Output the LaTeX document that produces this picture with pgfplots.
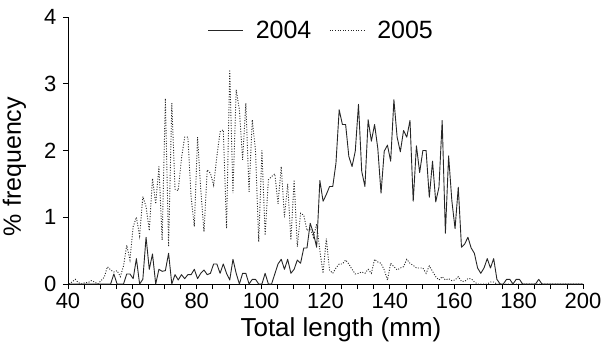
\documentclass[border=0pt]{standalone}
\usepackage{fontspec}
\setmainfont{Liberation Sans}
\usepackage{pgfplots}
\usepackage{pgfplotstable}
\pgfplotsset{compat=1.18}
\pgfplotstableread{
x a b
40 0 0
41 0 0.03
42 0 0.07
43 0 0.02
44 0 0
45 0 0.02
46 0 0.02
47 0 0.05
48 0 0.03
49 0 0
50 0 0.05
51 0 0.1
52 0 0.26
53 0 0.21
54 0.15 0.18
55 0 0.2
56 0 0.11
57 0 0.27
58 0.15 0.58
59 0.15 0.36
60 0.08 0.86
61 0.38 1.0
62 0 0.72
63 0.07 1.31
64 0.7 1.16
65 0.22 0.8
66 0.45 1.58
67 0 1.2
68 0.22 1.76
69 0.19 0.66
70 0.2 2.78
71 0.46 0.56
72 0 2.71
73 0.14 1.42
74 0.06 1.4
75 0.14 1.88
76 0.08 2.2
77 0.14 2.2
78 0.14 1.3
79 0.22 0.86
80 0.08 2.2
81 0.16 1.41
82 0.21 0.78
83 0.14 1.71
84 0.16 1.66
85 0.3 1.48
86 0.3 1.91
87 0.16 2.28
88 0.3 2.31
89 0.16 0.83
90 0.06 3.21
91 0.37 1.36
92 0.16 2.91
93 0 2.61
94 0.16 1.86
95 0.16 2.71
96 0 1.38
97 0.07 2.46
98 0.07 2.0
99 0 0.63
100 0 2.0
101 0.16 0.73
102 0 1.56
103 0 1.61
104 0.15 1.65
105 0.3 1.2
106 0.37 1.76
107 0.22 1.0
108 0.37 1.5
109 0.16 0.66
110 0.22 1.56
111 0.36 0.56
112 0.31 1.06
113 0.54 1.03
114 0.54 0.8
115 0.91 0.84
116 0.76 0.7
117 0.55 0.9
118 1.55 0.5
119 1.24 0.16
120 1.34 0.68
121 1.46 0.21
122 1.46 0.16
123 1.81 0.24
124 2.61 0.3
125 2.39 0.3
126 2.39 0.36
127 1.91 0.3
128 1.76 0.22
129 1.99 0.15
130 2.69 0.16
131 1.69 0.18
132 1.46 0.16
133 2.46 0.22
134 2.14 0.16
135 2.39 0.37
136 2.03 0.33
137 1.36 0.31
138 1.99 0.21
139 2.08 0.06
140 1.84 0.31
141 2.76 0.26
142 2.2 0.21
143 1.98 0.24
144 2.3 0.26
145 2.2 0.37
146 2.45 0.31
147 1.24 0.28
148 2.07 0.24
149 1.67 0.24
150 2.0 0.24
151 2.0 0.16
152 1.3 0.27
153 1.84 0.19
154 1.23 0.11
155 1.45 0.06
156 2.45 0.11
157 0.76 0.06
158 1.92 0.08
159 1.25 0.05
160 0.83 0.06
161 1.45 0.11
162 0.55 0.04
163 0.6 0.04
164 0.7 0.08
165 0.54 0.08
166 0.46 0.03
167 0.24 0
168 0.16 0
169 0.24 0
170 0.38 0
171 0.24 0.03
172 0.38 0.03
173 0.07 0
174 0 0
175 0 0
176 0.07 0
177 0.07 0
178 0 0
179 0.07 0
180 0.07 0
181 0 0
182 0 0
183 0 0
184 0 0
185 0 0
186 0.07 0
187 0 0
188 0 0
189 0 0
190 0 0
191 0 0
192 0 0
193 0 0
194 0 0
195 0 0
196 0 0
197 0 0
198 0 0
199 0 0
200 0 0
}\datatab
\begin{document}
\begin{tikzpicture}
\path[use as bounding box] (-68bp,-59bp) rectangle (533bp,284bp);
\begin{axis}[
  at={(0,0)}, anchor=south west,
  scale only axis, width=515bp, height=267bp,
  xmin=40, xmax=200, ymin=0, ymax=4,
  axis x line=bottom, axis y line=left,
  axis line style={-, line width=0.8bp, black},
  xtick={40,60,...,200}, minor x tick num=3,
  ytick={0,1,2,3,4},
  tick align=outside,
  major tick length=5bp, minor tick length=5bp,
  tick style={black, line width=0.8bp},
  tick label style={font=\fontsize{22bp}{26bp}\selectfont},
  yticklabel style={xshift=-3bp},
  xticklabel style={yshift=-1bp},
  /pgf/number format/assume math mode=true,
  xlabel={Total length (mm)},
  ylabel={\% frequency},
  every axis x label/.style={at={(axis description cs:0.53,-0.172)},anchor=center,font=\fontsize{26bp}{30bp}\selectfont},
  every axis y label/.style={at={(axis description cs:-0.104,0.44)},rotate=90,anchor=center,inner sep=0pt,font=\fontsize{25bp}{29bp}\selectfont},
  legend style={draw=none, fill=none, at={(axis description cs:0.492,0.951)}, anchor=center,
    legend columns=2,
    /tikz/every odd column/.append style={column sep=10bp},
    /tikz/every even column/.append style={column sep=16bp},
    nodes={font=\fontsize{25bp}{29bp}\selectfont}},
  legend image code/.code={\draw[#1] (0bp,0bp) -- (35bp,0bp);},
]
\addplot[black!85, line width=0.9bp, line join=round] table[x expr=\thisrow{x}+0.25, y=a] {\datatab};
\addlegendentry{2004}
\addplot[black!85, line width=0.9bp, dash pattern=on 1bp off 1.6bp] table[x expr=\thisrow{x}+0.25, y=b] {\datatab};
\addlegendentry{2005}
\end{axis}
\end{tikzpicture}
\end{document}
